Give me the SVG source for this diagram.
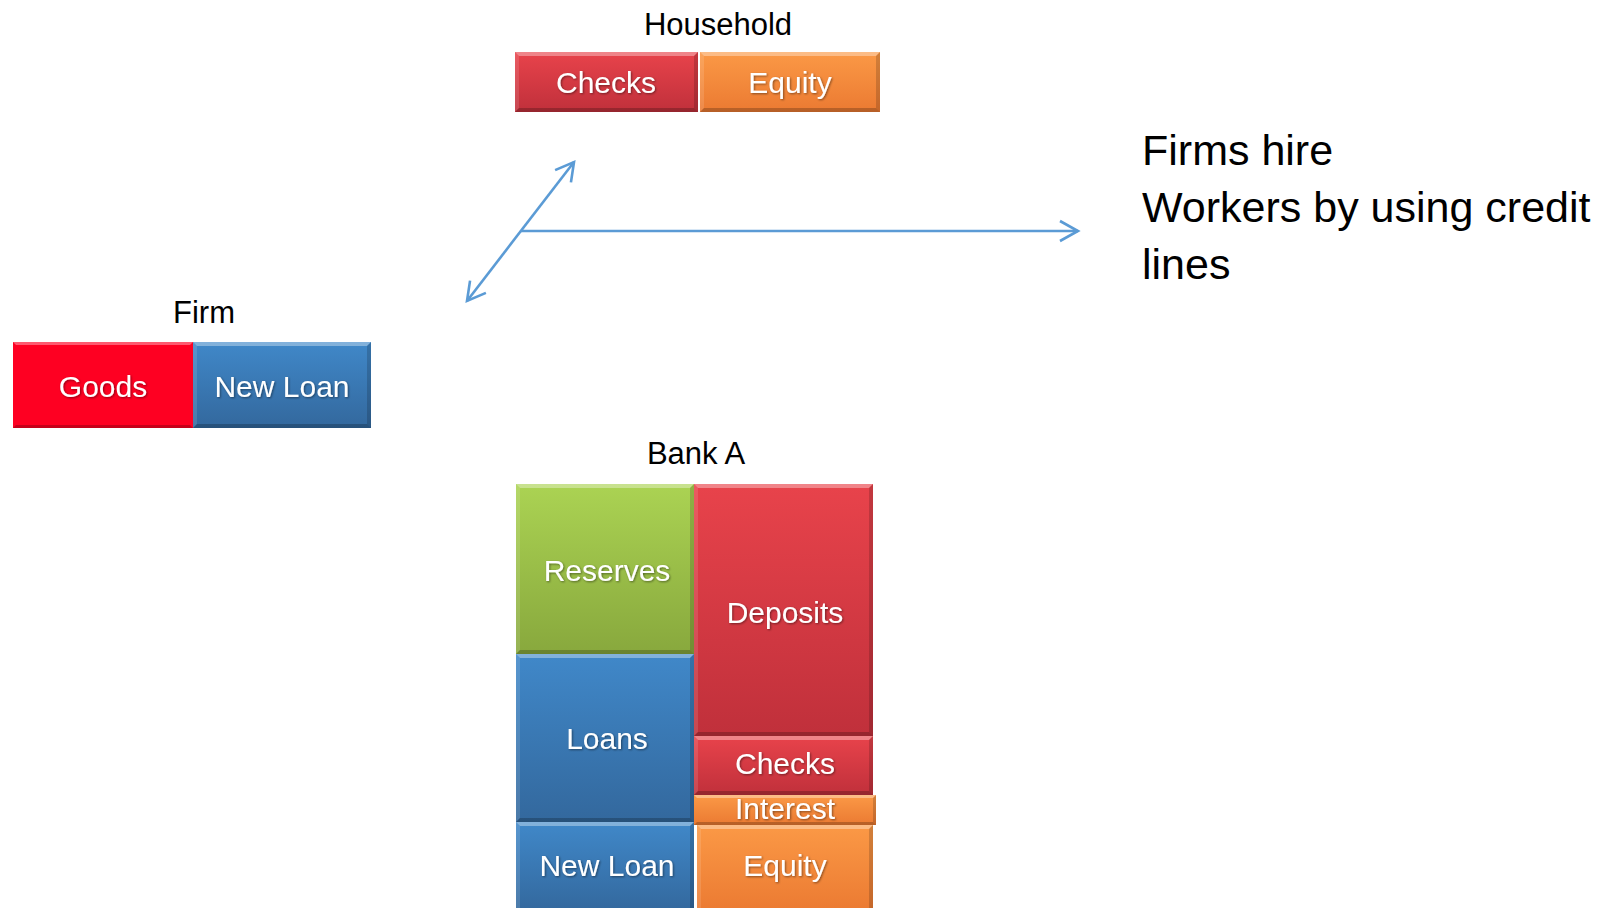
<svg xmlns="http://www.w3.org/2000/svg" width="1609" height="908" viewBox="0 0 1609 908">
  <style>
    .title { font-family: "Liberation Sans", Arial, sans-serif; font-size: 31px; fill: #000; text-anchor: middle; }
    .lbl { font-family: "Liberation Sans", Arial, sans-serif; font-size: 30px; fill: #fff; text-anchor: middle; filter: url(#txtShadow); }
    .note { font-family: "Liberation Sans", Arial, sans-serif; font-size: 43px; fill: #000; }
    .bt { fill: #fff; opacity: 0.35; }
    .bl { fill: #fff; opacity: 0.12; }
    .bb { fill: #000; opacity: 0.22; }
    .br { fill: #000; opacity: 0.16; }
    .conn { fill: none; stroke: #5b9bd5; stroke-width: 2.6; }
  </style>
  <defs>
    <linearGradient id="gRed" x1="0" y1="0" x2="0" y2="1">
      <stop offset="0" stop-color="#e8434b"/>
      <stop offset="1" stop-color="#c0303b"/>
    </linearGradient>
    <linearGradient id="gOrange" x1="0" y1="0" x2="0" y2="1">
      <stop offset="0" stop-color="#fb9946"/>
      <stop offset="1" stop-color="#eb7a32"/>
    </linearGradient>
    <linearGradient id="gBlue" x1="0" y1="0" x2="0" y2="1">
      <stop offset="0" stop-color="#4088c9"/>
      <stop offset="1" stop-color="#33689d"/>
    </linearGradient>
    <linearGradient id="gGreen" x1="0" y1="0" x2="0" y2="1">
      <stop offset="0" stop-color="#abd353"/>
      <stop offset="1" stop-color="#88a83d"/>
    </linearGradient>
    <filter id="txtShadow" x="-10%" y="-20%" width="120%" height="140%">
      <feDropShadow dx="1" dy="1" stdDeviation="1" flood-color="#000" flood-opacity="0.45"/>
    </filter>
    <marker id="head" viewBox="-20 -12 24 24" refX="0" refY="0" markerWidth="24" markerHeight="24" markerUnits="userSpaceOnUse" orient="auto-start-reverse">
      <path d="M-18,-10 L0,0 L-18,10" fill="none" stroke="#5b9bd5" stroke-width="2.6"/>
    </marker>
  </defs>

  <rect width="1609" height="908" fill="#fff"/>

  <!-- Household balance sheet -->
  <g id="household">
    <text class="title" x="718" y="35">Household</text>
    <g id="household-checks">
      <rect x="515" y="52" width="183" height="60" fill="url(#gRed)"/>
      <polygon class="bt" points="515,52 698,52 694,56 519,56"/>
      <polygon class="bl" points="515,52 519,56 519,108 515,112"/>
      <polygon class="bb" points="515,112 698,112 694,108 519,108"/>
      <polygon class="br" points="698,52 694,56 694,108 698,112"/>
      <text class="lbl" x="606" y="93">Checks</text>
    </g>
    <g id="household-equity">
      <rect x="700" y="52" width="180" height="60" fill="url(#gOrange)"/>
      <polygon class="bt" points="700,52 880,52 876,56 704,56"/>
      <polygon class="bl" points="700,52 704,56 704,108 700,112"/>
      <polygon class="bb" points="700,112 880,112 876,108 704,108"/>
      <polygon class="br" points="880,52 876,56 876,108 880,112"/>
      <text class="lbl" x="790" y="93">Equity</text>
    </g>
  </g>

  <!-- Firm balance sheet -->
  <g id="firm">
    <text class="title" x="204" y="323">Firm</text>
    <g id="firm-goods">
      <rect x="13" y="342" width="180" height="86" fill="#fe0022"/>
      <polygon class="bt" points="13,342 193,342 190,345 16,345"/>
      <polygon class="bb" points="13,428 193,428 190,425 16,425"/>
      <text class="lbl" x="103" y="397">Goods</text>
    </g>
    <g id="firm-newloan">
      <rect x="193" y="342" width="178" height="86" fill="url(#gBlue)"/>
      <polygon class="bt" points="193,342 371,342 367,346 197,346"/>
      <polygon class="bl" points="193,342 197,346 197,424 193,428"/>
      <polygon class="bb" points="193,428 371,428 367,424 197,424"/>
      <polygon class="br" points="371,342 367,346 367,424 371,428"/>
      <text class="lbl" x="282" y="397">New Loan</text>
    </g>
  </g>

  <!-- Bank A balance sheet -->
  <g id="bank-a">
    <text class="title" x="696" y="464">Bank A</text>
    <g id="bank-reserves">
      <rect x="516" y="484" width="178" height="170" fill="url(#gGreen)"/>
      <polygon class="bt" points="516,484 694,484 690,488 520,488"/>
      <polygon class="bl" points="516,484 520,488 520,650 516,654"/>
      <polygon class="bb" points="516,654 694,654 690,650 520,650"/>
      <polygon class="br" points="694,484 690,488 690,650 694,654"/>
      <text class="lbl" x="607" y="581">Reserves</text>
    </g>
    <g id="bank-loans">
      <rect x="516" y="654" width="178" height="168" fill="url(#gBlue)"/>
      <polygon class="bt" points="516,654 694,654 690,658 520,658"/>
      <polygon class="bl" points="516,654 520,658 520,818 516,822"/>
      <polygon class="bb" points="516,822 694,822 690,818 520,818"/>
      <polygon class="br" points="694,654 690,658 690,818 694,822"/>
      <text class="lbl" x="607" y="749">Loans</text>
    </g>
    <g id="bank-newloan">
      <rect x="516" y="822" width="178" height="90" fill="url(#gBlue)"/>
      <polygon class="bt" points="516,822 694,822 690,826 520,826"/>
      <polygon class="bl" points="516,822 520,826 520,912 516,912"/>
      <polygon class="br" points="694,822 690,826 690,912 694,912"/>
      <text class="lbl" x="607" y="876">New Loan</text>
    </g>
    <g id="bank-deposits">
      <rect x="694" y="484" width="179" height="252" fill="url(#gRed)"/>
      <polygon class="bt" points="694,484 873,484 869,488 698,488"/>
      <polygon class="bl" points="694,484 698,488 698,732 694,736"/>
      <polygon class="bb" points="694,736 873,736 869,732 698,732"/>
      <polygon class="br" points="873,484 869,488 869,732 873,736"/>
      <text class="lbl" x="785" y="623">Deposits</text>
    </g>
    <g id="bank-checks">
      <rect x="694" y="736" width="179" height="59" fill="url(#gRed)"/>
      <polygon class="bt" points="694,736 873,736 869,740 698,740"/>
      <polygon class="bl" points="694,736 698,740 698,791 694,795"/>
      <polygon class="bb" points="694,795 873,795 869,791 698,791"/>
      <polygon class="br" points="873,736 869,740 869,791 873,795"/>
      <text class="lbl" x="785" y="774">Checks</text>
    </g>
    <g id="bank-interest">
      <rect x="694" y="795" width="182" height="30" fill="url(#gOrange)"/>
      <polygon class="bt" points="694,795 876,795 873,798 697,798"/>
      <polygon class="bb" points="694,825 876,825 873,822 697,822"/>
      <polygon class="br" points="876,795 873,798 873,822 876,825"/>
      <text class="lbl" x="785" y="819">Interest</text>
    </g>
    <g id="bank-equity">
      <rect x="697" y="825" width="176" height="87" fill="url(#gOrange)"/>
      <polygon class="bt" points="697,825 873,825 869,829 701,829"/>
      <polygon class="bl" points="697,825 701,829 701,912 697,912"/>
      <polygon class="br" points="873,825 869,829 869,912 873,912"/>
      <text class="lbl" x="785" y="876">Equity</text>
    </g>
  </g>

  <!-- Connectors -->
  <g id="connectors">
    <line class="conn" x1="467" y1="301" x2="574" y2="162" marker-start="url(#head)" marker-end="url(#head)"/>
    <line class="conn" x1="521" y1="231" x2="1078" y2="231" marker-end="url(#head)"/>
  </g>

  <!-- Annotation -->
  <g id="note">
    <text class="note" x="1142" y="165">Firms hire</text>
    <text class="note" x="1142" y="222">Workers by using credit</text>
    <text class="note" x="1142" y="279">lines</text>
  </g>
</svg>
